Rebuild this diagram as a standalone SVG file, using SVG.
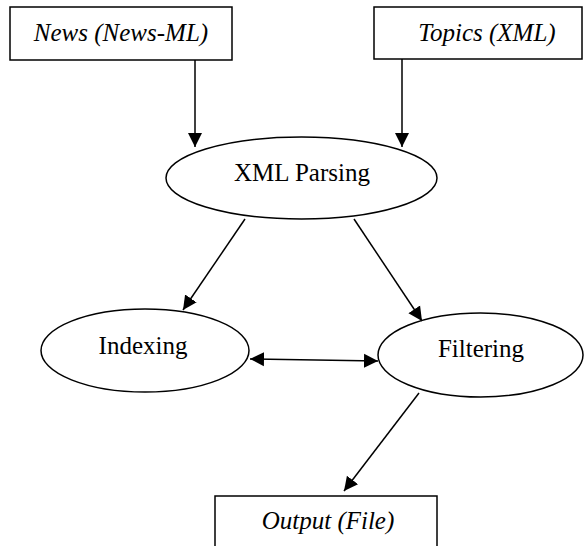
<svg xmlns="http://www.w3.org/2000/svg" width="587" height="546" viewBox="0 0 587 546">
<style>
.box{fill:#fff;stroke:#000;stroke-width:1.5}
.ell{fill:#fff;stroke:#000;stroke-width:1.5}
.t{font-family:"Liberation Serif","Times New Roman",serif;font-size:25px;fill:#000;text-anchor:middle}
.i{font-style:italic}
.c{stroke:#000;stroke-width:1.5;fill:none}
</style>
<defs>
<marker id="ah" markerUnits="userSpaceOnUse" markerWidth="16" markerHeight="16" viewBox="0 0 16 16" refX="14" refY="8" orient="auto">
<path d="M0,1 L14,8 L0,15 Z" fill="#000"/>
</marker>
<marker id="as" markerUnits="userSpaceOnUse" markerWidth="16" markerHeight="16" viewBox="0 0 16 16" refX="2" refY="8" orient="auto">
<path d="M16,1 L2,8 L16,15 Z" fill="#000"/>
</marker>
</defs>
<g id="news"><rect class="box" x="10" y="7" width="222" height="53"/><text class="t i" x="121" y="41">News (News-ML)</text></g>
<g id="topics"><rect class="box" x="374" y="7" width="208" height="52"/><text class="t i" x="487" y="41">Topics (XML)</text></g>
<g id="xmlparsing"><ellipse class="ell" cx="301.5" cy="178" rx="135.5" ry="41"/><text class="t" x="302" y="181">XML Parsing</text></g>
<g id="indexing"><ellipse class="ell" cx="145" cy="350.5" rx="104" ry="41.5"/><text class="t" x="143" y="354">Indexing</text></g>
<g id="filtering"><ellipse class="ell" cx="480.5" cy="355" rx="102.5" ry="42"/><text class="t" x="481" y="357">Filtering</text></g>
<g id="output"><rect class="box" x="215" y="496" width="222" height="60"/><text class="t i" x="328" y="529">Output (File)</text></g>
<g id="connectors">
<line class="c" x1="195" y1="60" x2="195" y2="147" marker-end="url(#ah)"/>
<line class="c" x1="402" y1="59" x2="402" y2="147" marker-end="url(#ah)"/>
<line class="c" x1="245" y1="219" x2="183" y2="310" marker-end="url(#ah)"/>
<line class="c" x1="354" y1="219" x2="422" y2="321" marker-end="url(#ah)"/>
<line class="c" x1="250" y1="359" x2="378" y2="361" marker-start="url(#as)" marker-end="url(#ah)"/>
<line class="c" x1="419" y1="393" x2="344" y2="491" marker-end="url(#ah)"/>
</g>
</svg>
